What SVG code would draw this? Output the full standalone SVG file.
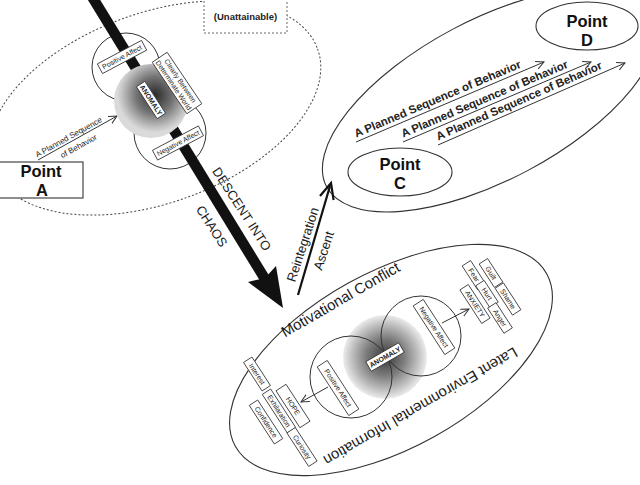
<svg xmlns="http://www.w3.org/2000/svg" width="640" height="485" viewBox="0 0 640 485">
<defs>
<style>
text{font-family:"Liberation Sans",Arial,sans-serif;fill:#222}
.lbl{font-size:7px;text-anchor:middle}
.lb2{font-size:7px;text-anchor:middle;font-weight:bold}
.box{fill:#fff;stroke:#333;stroke-width:0.8}
.ln{fill:none;stroke:#333;stroke-width:1}
.circ{fill:#fff;stroke:#333;stroke-width:1}
.big{font-size:16.5px;font-weight:bold;text-anchor:middle;fill:#111}
.seq{font-size:11.5px;font-weight:bold;fill:#222}
.mid{font-size:13px;text-anchor:middle;fill:#1a1a1a}
.ell{font-size:15px;text-anchor:middle;fill:#1a1a1a}
</style>
<radialGradient id="gTop" cx="0.55" cy="0.42" r="0.55">
<stop offset="0" stop-color="#2a2a2a"/>
<stop offset="0.45" stop-color="#737373"/>
<stop offset="0.8" stop-color="#c2c2c2"/>
<stop offset="0.92" stop-color="#dadada"/>
</radialGradient>
<radialGradient id="gBot">
<stop offset="0" stop-color="#383838"/>
<stop offset="0.45" stop-color="#7c7c7c"/>
<stop offset="0.8" stop-color="#c2c2c2"/>
<stop offset="1" stop-color="#ececec"/>
</radialGradient>
<marker id="open" markerWidth="10" markerHeight="10" refX="8" refY="4" orient="auto" markerUnits="userSpaceOnUse">
<path d="M0,0 L8,4 L0,8" fill="none" stroke="#333" stroke-width="1"/>
</marker>
</defs>
<rect width="640" height="485" fill="#fff"/>

<g id="upper-region">
<ellipse cx="155" cy="108" rx="173" ry="95" transform="rotate(-20 155 108)" fill="none" stroke="#444" stroke-width="1" stroke-dasharray="2 2"/>
</g>

<g id="unattainable">
<rect x="204" y="-3" width="83" height="36" fill="#fff" stroke="#666" stroke-width="1" stroke-dasharray="2 2"/>
<text x="245.5" y="20" font-size="9.5" font-weight="bold" text-anchor="middle" fill="#555">(Unattainable)</text>
</g>

<g id="right-region">
<ellipse cx="490" cy="100" rx="185" ry="80" transform="rotate(-28 490 100)" fill="none" stroke="#333" stroke-width="1.1"/>
</g>

<g id="point-d">
<ellipse cx="587" cy="26" rx="51" ry="24" fill="#fff" stroke="#333" stroke-width="1.1"/>
<text class="big"><tspan x="587" y="26.5">Point</tspan><tspan x="587" y="45.5">D</tspan></text>
</g>

<g id="point-c">
<ellipse cx="400" cy="172" rx="52" ry="24" fill="#fff" stroke="#333" stroke-width="1.1"/>
<text class="big"><tspan x="400" y="169.5">Point</tspan><tspan x="400" y="188.5">C</tspan></text>
</g>

<g id="lower-region">
<ellipse cx="391" cy="360" rx="178" ry="88" transform="rotate(-29 391 360)" fill="none" stroke="#333" stroke-width="1.1"/>
<text class="ell" transform="translate(343 304) rotate(-30)">Motivational Conflict</text>
<text class="ell" transform="translate(418 402) rotate(150)">Latent Environmental Information</text>
</g>

<g id="upper-circles">
<circle class="circ" cx="126" cy="67" r="34"/>
<circle class="circ" cx="170" cy="133" r="36"/>
</g>

<g id="connectors">
<line x1="91" y1="-5" x2="265" y2="279" stroke="#111" stroke-width="10.5"/>
<polygon points="283,308 248,282 265,278 276,266" fill="#111"/>
<text class="mid" transform="translate(238 211.5) rotate(57)">DESCENT INTO</text>
<text class="mid" transform="translate(208 228.6) rotate(57)">CHAOS</text>
<line x1="298" y1="295" x2="330" y2="186" stroke="#111" stroke-width="2.2"/>
<polyline points="320,196 331,183 333.6,200" fill="none" stroke="#111" stroke-width="2.2"/>
<text class="mid" transform="translate(307 246) rotate(-72)">Reintegration</text>
<text class="mid" transform="translate(328 252) rotate(-72)">Ascent</text>
<line class="ln" x1="38" y1="160" x2="117" y2="116" marker-end="url(#open)"/>
<text font-size="8" text-anchor="middle" fill="#333" transform="translate(70 139.5) rotate(-29)">A Planned Sequence</text>
<text font-size="8" text-anchor="middle" fill="#333" transform="translate(80 148.5) rotate(-29)">of Behavior</text>
<line class="ln" x1="356" y1="142" x2="544" y2="62" marker-end="url(#open)"/>
<text class="seq" transform="translate(356 142) rotate(-23)" x="2" y="-4">A Planned Sequence of Behavior</text>
<line class="ln" x1="403" y1="142" x2="591" y2="62" marker-end="url(#open)"/>
<text class="seq" transform="translate(403 142) rotate(-23)" x="2" y="-4">A Planned Sequence of Behavior</text>
<line class="ln" x1="438" y1="145" x2="625" y2="63" marker-end="url(#open)"/>
<text class="seq" transform="translate(438 145) rotate(-23.7)" x="2" y="-4">A Planned Sequence of Behavior</text>
<line class="ln" x1="442" y1="323" x2="469" y2="309" marker-end="url(#open)"/>
<line class="ln" x1="328" y1="387" x2="301" y2="402" marker-end="url(#open)"/>
</g>

<g id="upper-anomaly">
<circle cx="151" cy="101" r="37" fill="url(#gTop)"/>
<g transform="translate(151 100) rotate(57)"><rect class="box" x="-19" y="-5" width="38" height="10"/><text class="lb2" y="2.4" font-size="6.5">ANOMALY</text></g>
</g>
<g id="upper-positive-affect" transform="translate(122 57) rotate(-28)">
<rect class="box" x="-25" y="-5.5" width="50" height="11"/><text class="lbl" y="2.5">Positive Affect</text>
</g>
<g id="upper-clearly-between" transform="translate(177 83) rotate(56)">
<rect class="box" x="-31" y="-9" width="62" height="18"/><text class="lbl"><tspan x="0" y="-1.5">Clearly Between</tspan><tspan x="0" y="6.5">Determinate World</tspan></text>
</g>
<g id="upper-negative-affect" transform="translate(178 143) rotate(-28)">
<rect class="box" x="-26" y="-5.5" width="52" height="11"/><text class="lbl" y="2.5">Negative Affect</text>
</g>

<g id="point-a">
<rect x="-1" y="162" width="84" height="36" fill="#fff" stroke="#333" stroke-width="1.1"/>
<text class="big"><tspan x="41" y="177">Point</tspan><tspan x="42" y="195.5">A</tspan></text>
</g>

<g id="lower-anomaly">
<circle cx="385" cy="357" r="42" fill="url(#gBot)"/>
<circle cx="351" cy="377" r="41" fill="none" stroke="#333" stroke-width="1"/>
<circle cx="421" cy="336" r="40" fill="none" stroke="#333" stroke-width="1"/>
<g transform="translate(385 357) rotate(-30)"><rect class="box" x="-19" y="-5.5" width="38" height="11"/><text class="lb2" y="2.5">ANOMALY</text></g>
</g>
<g id="lower-positive-affect" transform="translate(338 388) rotate(57)"><rect class="box" x="-29" y="-6" width="58" height="12"/><text class="lbl" y="2.5">Positive Affect</text></g>
<g id="lower-negative-affect" transform="translate(434 327) rotate(57)"><rect class="box" x="-29" y="-6" width="58" height="12"/><text class="lbl" y="2.5">Negative Affect</text></g>

<g id="fear" transform="translate(474 275) rotate(57)"><rect class="box" x="-14" y="-5" width="28" height="10"/><text class="lbl" y="2.5">Fear</text></g>
<g id="guilt" transform="translate(491 273) rotate(57)"><rect class="box" x="-14" y="-5" width="28" height="10"/><text class="lbl" y="2.5">Guilt</text></g>
<g id="hurt" transform="translate(487 294) rotate(57)"><rect class="box" x="-13" y="-5" width="26" height="10"/><text class="lbl" y="2.5">Hurt</text></g>
<g id="shame" transform="translate(508 299) rotate(57)"><rect class="box" x="-16" y="-5" width="32" height="10"/><text class="lbl" y="2.5">Shame</text></g>
<g id="anxiety" transform="translate(475 304) rotate(57)"><rect class="box" x="-20" y="-5" width="40" height="10"/><text class="lbl" y="2.5">ANXIETY</text></g>
<g id="anger" transform="translate(500 318) rotate(57)"><rect class="box" x="-15" y="-5" width="30" height="10"/><text class="lbl" y="2.5">Anger</text></g>

<g id="interest" transform="translate(257 374) rotate(57)"><rect class="box" x="-17" y="-5" width="34" height="10"/><text class="lbl" y="2.5">Interest</text></g>
<g id="hope" transform="translate(293 406) rotate(57)"><rect class="box" x="-22" y="-6" width="44" height="12"/><text class="lbl" y="2.5">HOPE</text></g>
<g id="exhilaration" transform="translate(279 411) rotate(57)"><rect class="box" x="-23" y="-5" width="46" height="10"/><text class="lbl" y="2.5">Exhilaration</text></g>
<g id="confidence" transform="translate(266 422) rotate(57)"><rect class="box" x="-23" y="-5" width="46" height="10"/><text class="lbl" y="2.5">Confidence</text></g>
<g id="curiosity" transform="translate(302 447) rotate(57)"><rect class="box" x="-20" y="-5" width="40" height="10"/><text class="lbl" y="2.5">Curiosity</text></g>
</svg>
